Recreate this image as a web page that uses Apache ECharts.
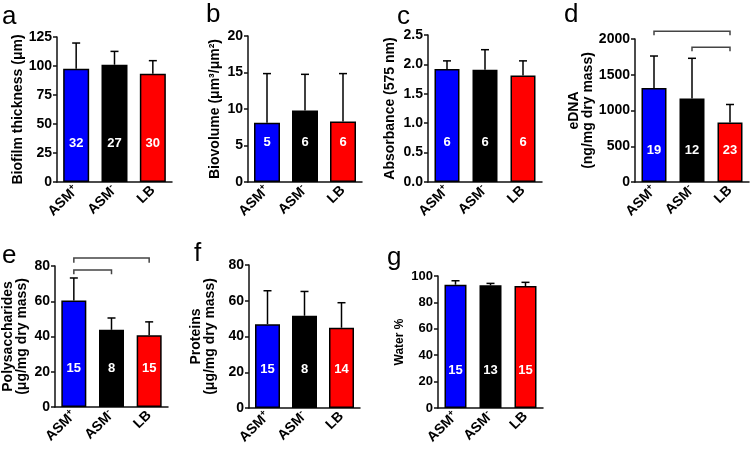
<!DOCTYPE html>
<html><head><meta charset="utf-8">
<script src="https://cdn.jsdelivr.net/npm/echarts@6/dist/echarts.min.js"></script>
<style>html,body{margin:0;padding:0;background:#fff}#c{width:750px;height:452px}</style>
</head><body><div id="c"></div>
<script>
// ---- data ----
const categories = ['ASM+', 'ASM-', 'LB'];
const barColors = ['#0000ff', '#000000', '#ff0000'];
const panelLetters = ['a', 'b', 'c', 'd', 'e', 'f', 'g'];
const axisNames = ['Biofilm thickness (\u03bcm)', 'Biovolume (\u03bcm\u00b3/\u03bcm\u00b2)', 'Absorbance (575 nm)',
  'eDNA\n(ng/mg dry mass)', 'Polysaccharides\n(\u03bcg/mg dry mass)', 'Proteins\n(\u03bcg/mg dry mass)', 'Water %'];
const yMax = [125, 20, 2.5, 2000, 80, 80, 100];
const yStep = [25, 5, 0.5, 500, 20, 20, 20];
const thicknessMean = [97.7, 101.1, 93.4];
const thicknessSD = [22.1, 11.5, 11.2];
const thicknessN = [32, 27, 30];
const biovolumeMean = [8.1, 9.8, 8.3];
const biovolumeSD = [6.75, 4.95, 6.55];
const biovolumeN = [5, 6, 6];
const absorbanceMean = [1.92, 1.91, 1.81];
const absorbanceSD = [0.14, 0.34, 0.25];
const absorbanceN = [6, 6, 6];
const eDNAMean = [1314, 1169, 831];
const eDNASD = [448, 561, 253];
const eDNAN = [19, 12, 23];
const polysaccharidesMean = [60.4, 43.8, 40.7];
const polysaccharidesSD = [12.8, 6.7, 7.6];
const polysaccharidesN = [15, 8, 15];
const proteinsMean = [46.9, 51.6, 44.9];
const proteinsSD = [18.7, 13.6, 14.0];
const proteinsN = [15, 8, 14];
const waterMean = [93.4, 92.9, 92.4];
const waterSD = [3.0, 1.5, 2.8];
const waterN = [15, 13, 15];
// significance brackets: [fromCategory, toCategory, level, dropLevel]
const eDNABrackets = [[0, 2, 2108, 2051], [1, 2, 1883, 1827]];
const polysaccharidesBrackets = [[0, 2, 84.5, 81.9], [0, 1, 77.7, 75.3]];

const means = [thicknessMean, biovolumeMean, absorbanceMean, eDNAMean, polysaccharidesMean, proteinsMean, waterMean];
const sds = [thicknessSD, biovolumeSD, absorbanceSD, eDNASD, polysaccharidesSD, proteinsSD, waterSD];
const ns = [thicknessN, biovolumeN, absorbanceN, eDNAN, polysaccharidesN, proteinsN, waterN];
const brackets = {3: eDNABrackets, 4: polysaccharidesBrackets};

// ---- layout ----
const layouts = [
  {left: 57, top: 37, width: 115, height: 145, gap: 32, dist: 32, bw: 26, fs: 14},
  {left: 248, top: 36, width: 114, height: 146, gap: 26, dist: 33, bw: 26, fs: 14},
  {left: 428, top: 35, width: 114, height: 147, gap: 31, dist: 33, bw: 25, fs: 14},
  {left: 635, top: 39, width: 114, height: 143, gap: 38, dist: 25, bw: 25, fs: 14},
  {left: 54, top: 266, width: 114, height: 141, gap: 26, dist: 32, bw: 25, fs: 14},
  {left: 249, top: 265, width: 111, height: 143, gap: 32, dist: 32, bw: 25, fs: 14},
  {left: 438, top: 276, width: 105, height: 132, gap: 31, dist: 31, bw: 22, fs: 12}
];
const letterPos = [[2, 17], [206, 15], [397, 17], [564, 15], [2, 256], [194, 254], [387, 258]];

const FONT = '"Liberation Sans", Arial, sans-serif';
const chart = echarts.init(document.getElementById('c'), null, {renderer: 'canvas'});

const grid = [], xAxis = [], yAxis = [], series = [], graphic = [];
layouts.forEach((L, i) => {
  grid.push({left: L.left, top: L.top, width: L.width, height: L.height, containLabel: false});
  xAxis.push({
    type: 'category', gridIndex: i, data: categories,
    axisLine: {lineStyle: {color: '#111', width: 1.5}},
    axisTick: {alignWithLabel: true, length: 4, lineStyle: {color: '#111', width: 1.5}},
    axisLabel: {
      interval: 0, rotate: 45, margin: 6, color: '#000', fontFamily: FONT,
      formatter: v => {
        const m = v.match(/^(.*?)([+-])$/);
        return m ? '{b|' + m[1] + '}{s|' + m[2] + '}' : '{b|' + v + '}';
      },
      rich: {
        b: {fontWeight: 'bold', fontSize: 14, fontFamily: FONT, color: '#000'},
        s: {fontWeight: 'bold', fontSize: 9, fontFamily: FONT, color: '#000', verticalAlign: 'top', padding: [0, 0, 8, 0]}
      }
    }
  });
  yAxis.push({
    type: 'value', gridIndex: i, min: 0, max: yMax[i], interval: yStep[i],
    name: axisNames[i], nameLocation: 'middle', nameGap: L.gap, nameRotate: 90,
    nameTextStyle: {fontWeight: 'bold', fontSize: L.fs, fontFamily: FONT, color: '#000', lineHeight: 14},
    axisLine: {show: true, lineStyle: {color: '#111', width: 1.5}},
    axisTick: {show: true, length: 4, lineStyle: {color: '#111', width: 1.5}},
    splitLine: {show: false},
    axisLabel: {
      color: '#000', fontWeight: 'bold', fontSize: i === 6 ? 13 : 14, fontFamily: FONT, margin: 5,
      formatter: v => i === 2 ? v.toFixed(1) : String(v)
    }
  });
  series.push({
    type: 'bar', xAxisIndex: i, yAxisIndex: i, barWidth: L.bw,
    data: means[i].map((v, k) => ({value: v, itemStyle: {color: barColors[k]}})),
    itemStyle: {borderColor: '#000', borderWidth: 1.5},
    label: {
      show: true, position: 'insideBottom', distance: L.dist, color: '#fff',
      fontWeight: 'bold', fontSize: 13, fontFamily: FONT,
      formatter: p => String(ns[i][p.dataIndex])
    },
    silent: true, animation: false
  });
  series.push({
    type: 'custom', xAxisIndex: i, yAxisIndex: i, clip: false, animation: false, silent: true, z: 5,
    data: means[i].map((v, k) => [k, v, sds[i][k]]),
    encode: {x: 0, y: 1},
    renderItem: (params, api) => {
      const x = api.value(0), m = api.value(1), s = api.value(2);
      const p0 = api.coord([x, m]), p1 = api.coord([x, m + s]);
      const st = {stroke: '#000', lineWidth: 1.5};
      return {type: 'group', children: [
        {type: 'line', shape: {x1: p0[0], y1: p0[1], x2: p1[0], y2: p1[1]}, style: st},
        {type: 'line', shape: {x1: p1[0] - 4, y1: p1[1], x2: p1[0] + 4, y2: p1[1]}, style: st}
      ]};
    }
  });
  if (brackets[i]) {
    series.push({
      type: 'custom', xAxisIndex: i, yAxisIndex: i, clip: false, animation: false, silent: true,
      data: brackets[i],
      encode: {x: [0, 1], y: [2, 3]},
      renderItem: (params, api) => {
        const a = api.coord([api.value(0), api.value(3)]);
        const b = api.coord([api.value(0), api.value(2)]);
        const c = api.coord([api.value(1), api.value(2)]);
        const d = api.coord([api.value(1), api.value(3)]);
        return {type: 'polyline', shape: {points: [a, b, c, d]}, style: {stroke: '#444', lineWidth: 1.5, fill: null}};
      }
    });
  }
  graphic.push({
    type: 'text', x: letterPos[i][0], y: letterPos[i][1],
    style: {text: panelLetters[i], font: '26px ' + FONT, fill: '#000', verticalAlign: 'middle', align: 'left'}
  });
});

chart.setOption({animation: false, backgroundColor: '#fff', grid, xAxis, yAxis, series, graphic});
</script></body></html>
